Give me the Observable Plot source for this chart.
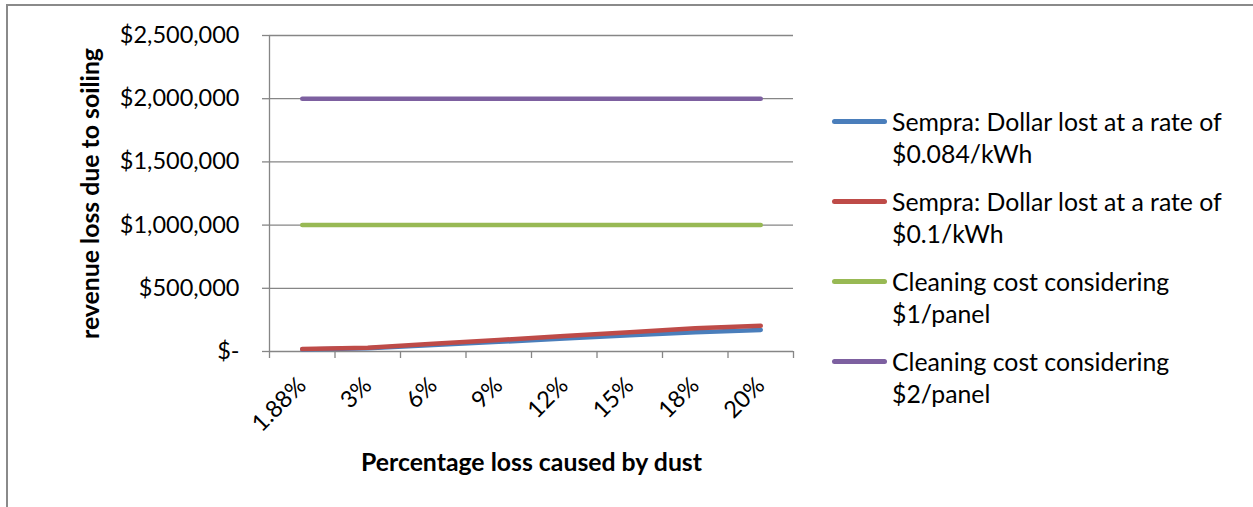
<!DOCTYPE html>
<html>
<head>
<meta charset="utf-8">
<script src="https://cdn.jsdelivr.net/npm/d3@7"></script>
<script src="https://cdn.jsdelivr.net/npm/@observablehq/plot@0.6"></script>
<style>
  html, body { margin: 0; padding: 0; background: #fff; }
  #wrap { position: relative; width: 1253px; height: 507px; overflow: hidden; font-family: Lato, sans-serif; }
  #frame { position: absolute; left: 6px; top: 4px; width: 1300px; height: 600px; border-left: 2px solid #8a8a8a; border-top: 2px solid #8a8a8a; }
  #chart { position: absolute; left: 0; top: 0; }
  #legend { position: absolute; left: 832px; top: 106px; }
  .item { position: relative; height: 64px; margin-bottom: 16px; }
  .sw { position: absolute; left: 0; top: 13px; width: 55px; height: 5px; border-radius: 3px; }
  .lt { position: absolute; left: 60px; top: 0; font-size: 24.8px; line-height: 32px; white-space: nowrap; color: #000; }
</style>
</head>
<body>
<div id="wrap">
  <div id="frame"></div>
  <div id="chart"></div>
  <div id="legend"></div>
</div>
<script>
const categories = ["1.88%", "3%", "6%", "9%", "12%", "15%", "18%", "20%"];
const seriesNames = [
  "Sempra: Dollar lost at a rate of $0.084/kWh",
  "Sempra: Dollar lost at a rate of $0.1/kWh",
  "Cleaning cost considering $1/panel",
  "Cleaning cost considering $2/panel"
];
const legendLines = [
  ["Sempra: Dollar lost at a rate of", "$0.084/kWh"],
  ["Sempra: Dollar lost at a rate of", "$0.1/kWh"],
  ["Cleaning cost considering", "$1/panel"],
  ["Cleaning cost considering", "$2/panel"]
];
const colors = ["#4a7ebb", "#be4b48", "#98b954", "#7d60a0"];
const sempra084 = [16000, 25500, 51000, 76500, 102000, 128000, 153000, 171000];
const sempra01 = [19000, 30000, 61000, 91000, 122000, 152000, 183000, 203000];
const clean1 = [1000000, 1000000, 1000000, 1000000, 1000000, 1000000, 1000000, 1000000];
const clean2 = [2000000, 2000000, 2000000, 2000000, 2000000, 2000000, 2000000, 2000000];
const yTicks = [0, 500000, 1000000, 1500000, 2000000, 2500000];

const seriesValues = [sempra084, sempra01, clean1, clean2];
const rows = [];
seriesValues.forEach((vals, s) => {
  vals.forEach((v, i) => rows.push({series: seriesNames[s], idx: i + 0.5, value: v}));
});
const cats = categories.map((c, i) => ({label: c, idx: i + 0.5}));
const bounds = d3.range(categories.length + 1);

const fmt = d => d === 0 ? "$-" : "$" + d3.format(",")(d);
const gray = "#868686";

const chart = Plot.plot({
  width: 1253,
  height: 507,
  marginLeft: 269,
  marginRight: 460,
  marginTop: 35,
  marginBottom: 156,
  style: {fontFamily: "Lato, sans-serif", background: "transparent", overflow: "visible"},
  x: {type: "linear", domain: [0, categories.length], axis: null},
  y: {domain: [0, 2500000], axis: null},
  color: {domain: seriesNames, range: colors},
  marks: [
    Plot.ruleY(yTicks, {stroke: gray, strokeWidth: 1.3}),
    Plot.axisY({ticks: yTicks, tickFormat: fmt, tickSize: 7, tickPadding: 23, fontSize: 23.5, stroke: gray, fill: "#000", label: null, strokeWidth: 1.3}),
    Plot.axisX({ticks: bounds, tickFormat: () => "", tickSize: 7, stroke: gray, label: null, strokeWidth: 1.3}),
    Plot.ruleX([0], {stroke: gray, strokeWidth: 1.3}),
    Plot.line(rows, {x: "idx", y: "value", z: "series", stroke: "series", strokeWidth: 4.5, strokeLinecap: "round", strokeLinejoin: "round"}),
    Plot.text(cats, {x: "idx", y: () => 0, text: "label", rotate: -45, textAnchor: "end", dy: 30, fontSize: 23.5, fill: "#000"}),
    Plot.text(["Percentage loss caused by dust"], {frameAnchor: "bottom", lineAnchor: "middle", textAnchor: "middle", dy: 112, fontSize: 24.8, fontWeight: "bold", fill: "#000"}),
    Plot.text(["revenue loss due to soiling"], {frameAnchor: "left", lineAnchor: "middle", textAnchor: "middle", dx: -178, rotate: -90, fontSize: 24.8, fontWeight: "bold", fill: "#000"})
  ]
});
document.getElementById("chart").appendChild(chart);

const legend = document.getElementById("legend");
legendLines.forEach((lines, i) => {
  const item = document.createElement("div");
  item.className = "item";
  const sw = document.createElement("div");
  sw.className = "sw";
  sw.style.background = colors[i];
  const lt = document.createElement("div");
  lt.className = "lt";
  lt.innerHTML = lines.map(l => l.replace(/&/g, "&amp;")).join("<br>");
  item.appendChild(sw);
  item.appendChild(lt);
  legend.appendChild(item);
});
</script>
</body>
</html>
